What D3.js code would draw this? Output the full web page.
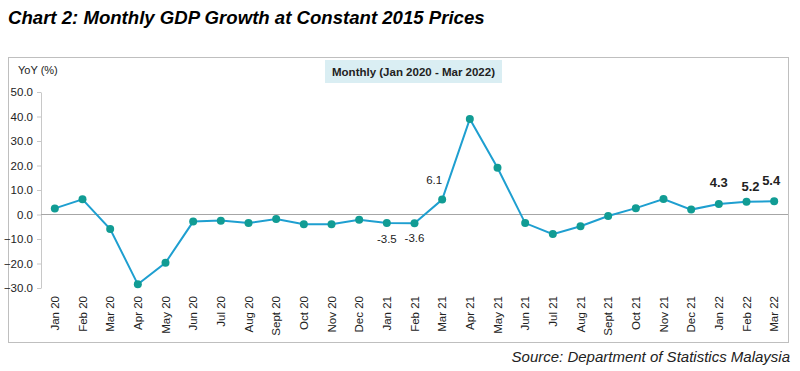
<!DOCTYPE html>
<html>
<head>
<meta charset="utf-8">
<script src="https://cdn.jsdelivr.net/npm/d3@7"></script>
<style>
  body { margin: 0; background: #fff; }
  svg text { font-family: Arial, "Liberation Sans", sans-serif; }
</style>
</head>
<body>
<div id="chart"></div>
<script>
// Monthly GDP growth, YoY %, Jan 2020 - Mar 2022
var months = ["Jan 20","Feb 20","Mar 20","Apr 20","May 20","Jun 20","Jul 20","Aug 20","Sept 20","Oct 20","Nov 20","Dec 20",
  "Jan 21","Feb 21","Mar 21","Apr 21","May 21","Jun 21","Jul 21","Aug 21","Sept 21","Oct 21","Nov 21","Dec 21",
  "Jan 22","Feb 22","Mar 22"];
var growth = [2.5, 6.2, -5.9, -28.5, -19.7, -2.9, -2.5, -3.5, -1.8, -4.0, -4.0, -2.1,
  -3.5, -3.6, 6.1, 39.0, 19.1, -3.5, -8.0, -4.8, -0.6, 2.6, 6.3, 2.0,
  4.3, 5.2, 5.4];
var yTicks = [-30, -20, -10, 0, 10, 20, 30, 40, 50];
// labelled points: index, text, bold?
var labelIdx = [12, 13, 14, 24, 25, 26];
var labelBold = [false, false, false, true, true, true];

const width = 800, height = 371;
const plot = { left: 41, right: 788, top: 92, bottom: 288 };

var svg = d3.select("#chart").append("svg")
  .attr("width", width)
  .attr("height", height);

// title
svg.append("text")
  .attr("x", 8).attr("y", 24)
  .attr("font-size", 18.6).attr("font-weight", "bold").attr("font-style", "italic")
  .text("Chart 2: Monthly GDP Growth at Constant 2015 Prices");

// frame
svg.append("rect")
  .attr("x", 8.5).attr("y", 57.5).attr("width", 780).attr("height", 285)
  .attr("fill", "none").attr("stroke", "#bfbfbf").attr("stroke-width", 1);

// legend-ish box
svg.append("rect")
  .attr("x", 325).attr("y", 60).attr("width", 177).attr("height", 23)
  .attr("fill", "#daeef3");
svg.append("text")
  .attr("x", 413.5).attr("y", 76).attr("text-anchor", "middle")
  .attr("font-size", 11.5).attr("font-weight", "bold").attr("fill", "#222")
  .text("Monthly (Jan 2020 - Mar 2022)");

svg.append("text")
  .attr("x", 18).attr("y", 74)
  .attr("font-size", 11).attr("fill", "#222")
  .text("YoY (%)");

var x = d3.scaleBand().domain(months).range([plot.left, plot.right]);
var y = d3.scaleLinear().domain([-30, 50]).range([plot.bottom, plot.top]);
var cx = function (d, i) { return x(months[i]) + x.bandwidth() / 2; };

// y axis
var yAxis = svg.append("g")
  .attr("transform", "translate(" + plot.left + ",0)")
  .call(d3.axisLeft(y).tickValues(yTicks).tickFormat(d3.format(".1f")).tickSize(4).tickSizeOuter(0));
yAxis.select(".domain").attr("stroke", "#c8c8c8");
yAxis.selectAll(".tick line").attr("stroke", "#c8c8c8");
yAxis.selectAll(".tick text").attr("font-size", 11.5).attr("fill", "#222").attr("x", -8)
  .style("font-family", "Arial, 'Liberation Sans', sans-serif");

// zero line
svg.append("line")
  .attr("x1", plot.left).attr("x2", plot.right)
  .attr("y1", y(0)).attr("y2", y(0))
  .attr("stroke", "#a6a6a6").attr("stroke-width", 1);

// x labels, rotated
svg.append("g").selectAll("text")
  .data(months)
  .enter().append("text")
  .attr("transform", function (d) { return "translate(" + (x(d) + x.bandwidth() / 2 + 4) + "," + 296 + ") rotate(-90)"; })
  .attr("text-anchor", "end")
  .attr("font-size", 11.5).attr("fill", "#222")
  .text(function (d) { return d; });

// line
var line = d3.line()
  .x(function (d, i) { return cx(d, i); })
  .y(function (d) { return y(d); });
svg.append("path")
  .datum(growth)
  .attr("d", line)
  .attr("fill", "none").attr("stroke", "#1e9fd0").attr("stroke-width", 2);

svg.append("g").selectAll("circle")
  .data(growth)
  .enter().append("circle")
  .attr("cx", cx)
  .attr("cy", function (d) { return y(d); })
  .attr("r", 4)
  .attr("fill", "#119c94");

// data labels
var labelOff = { 12: [0, 20], 13: [0, 19], 14: [-8, -16], 24: [0, -17], 25: [4, -11], 26: [-3, -16] };
labelIdx.forEach(function (idx, k) {
  svg.append("text")
    .attr("x", cx(growth[idx], idx) + labelOff[idx][0])
    .attr("y", y(growth[idx]) + labelOff[idx][1])
    .attr("text-anchor", "middle")
    .attr("font-size", labelBold[k] ? 13 : 11.5)
    .attr("font-weight", labelBold[k] ? "bold" : "normal")
    .attr("fill", "#222")
    .text(growth[idx].toFixed(1));
});

// source
svg.append("text")
  .attr("x", 790).attr("y", 362).attr("text-anchor", "end")
  .attr("font-size", 15).attr("font-style", "italic").attr("fill", "#222")
  .text("Source: Department of Statistics Malaysia");
</script>
</body>
</html>
